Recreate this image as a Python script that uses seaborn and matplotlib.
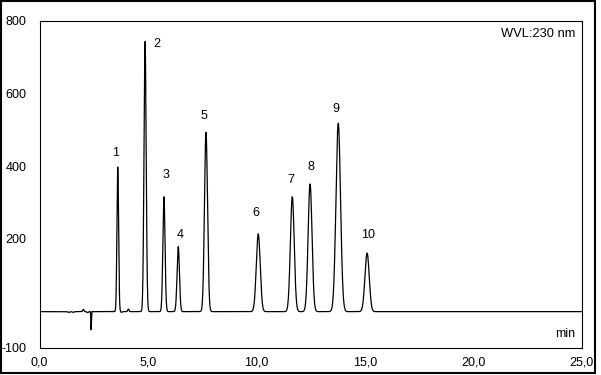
import numpy as np
import pandas as pd
import matplotlib
matplotlib.use("Agg")
import matplotlib.pyplot as plt
from matplotlib.patches import Rectangle
import seaborn as sns

# Peaks (retention time [min], height, width sigma [min])
peak_labels = ["1", "2", "3", "4", "5", "6", "7", "8", "9", "10"]
peak_times = [3.61, 4.87, 5.74, 6.40, 7.68, 10.09, 11.66, 12.48, 13.78, 15.11]
peak_heights = [398, 743, 316, 179, 493, 214, 316, 351, 518, 161]
peak_sigmas = [0.038, 0.050, 0.050, 0.055, 0.070, 0.090, 0.088, 0.090, 0.105, 0.098]

# Label anchor positions (data units)
label_x = [3.53, 5.42, 5.83, 6.48, 7.59, 9.97, 11.59, 12.51, 13.66, 15.17]
label_y = [435, 736, 375, 212, 537, 270, 361, 398, 558, 210]

# Small baseline disturbances (time, amplitude, sigma)
artifact_times = [1.35, 1.55, 2.02, 2.22, 2.38, 4.10, 3.78]
artifact_heights = [-2, -2, 6, -3, -50, 7, -2]
artifact_sigmas = [0.04, 0.04, 0.03, 0.03, 0.012, 0.03, 0.03]

x_ticks = [0, 5, 10, 15, 20, 25]
x_ticklabels = ["0,0", "5,0", "10,0", "15,0", "20,0", "25,0"]
y_ticks = [-100, 0, 200, 400, 600, 800]
y_ticklabels = ["-100", "", "200", "400", "600", "800"]

t = np.linspace(0, 25, 6001)
signal = np.zeros_like(t)
for c, h, s in zip(peak_times + artifact_times,
                   peak_heights + artifact_heights,
                   peak_sigmas + artifact_sigmas):
    signal += h * np.exp(-0.5 * ((t - c) / s) ** 2)
df = pd.DataFrame({"time": t, "signal": signal})

sns.set_style("white")
plt.rcParams["font.family"] = ["Liberation Sans", "DejaVu Sans"]

fig = plt.figure(figsize=(6.01, 3.75), dpi=100)
ax = fig.add_axes([39.5 / 601, 1 - 348 / 375, (581.5 - 39.5) / 601, (348 - 20.7) / 375])

sns.lineplot(data=df, x="time", y="signal", ax=ax, color="black", linewidth=0.9)

ax.set_xlim(0, 25)
ax.set_ylim(-100, 800)
ax.set_xticks(x_ticks)
ax.set_xticklabels(x_ticklabels)
ax.set_yticks(y_ticks)
ax.set_yticklabels(y_ticklabels)
ax.set_xlabel("")
ax.set_ylabel("")
ax.tick_params(axis="both", direction="out", length=4.3, width=0.8, colors="black",
               labelsize=9)
ax.tick_params(axis="y", pad=5)
ax.tick_params(axis="x", pad=2)
for sp in ax.spines.values():
    sp.set_color("black")
    sp.set_linewidth(0.8)

for lab, lx, ly in zip(peak_labels, label_x, label_y):
    ax.text(lx, ly, lab, ha="center", va="center", fontsize=9, color="black")

ax.text(0.988, 0.96, "WVL:230 nm", transform=ax.transAxes, ha="right", va="center",
        fontsize=9.3, color="black")
ax.text(0.988, 0.025, "min", transform=ax.transAxes, ha="right", va="bottom",
        fontsize=9, color="black")

fig.patches.append(Rectangle((1 / 601, 2.5 / 375), 594 / 601, 371.5 / 375,
                             transform=fig.transFigure, fill=False,
                             edgecolor="black", linewidth=1.5))

fig.savefig("out.png", dpi=100)
